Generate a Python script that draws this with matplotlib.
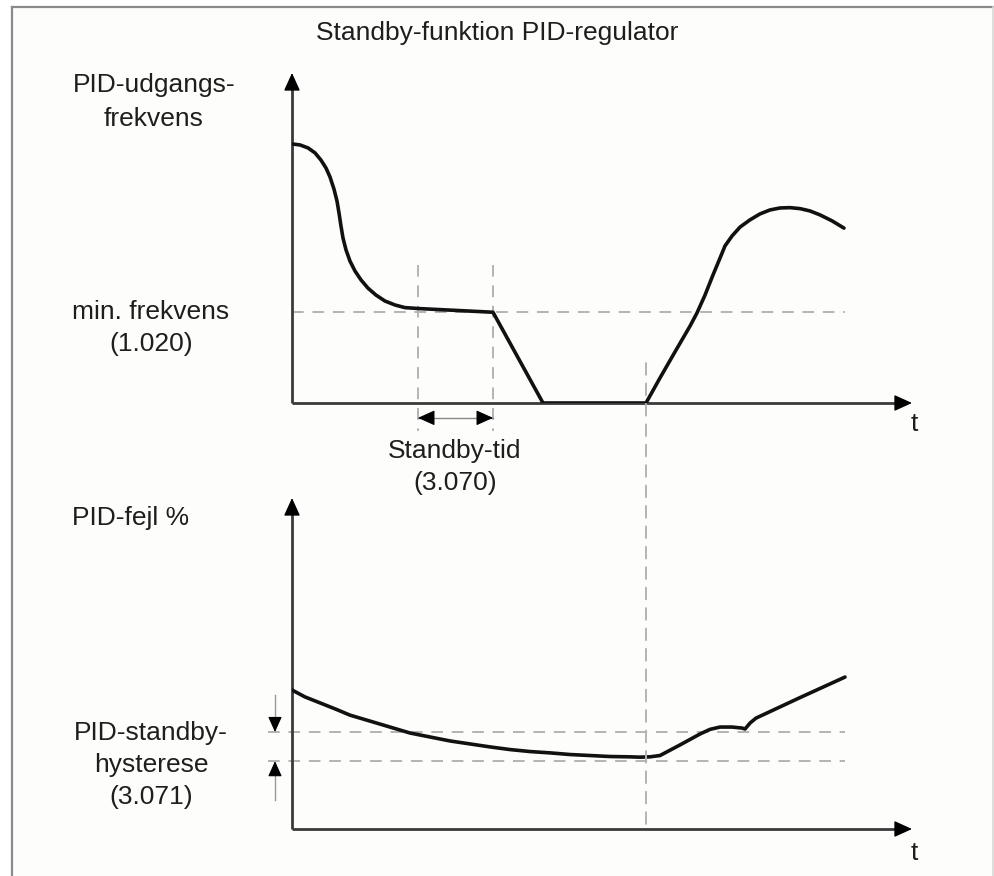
import matplotlib
matplotlib.use("Agg")
import matplotlib.pyplot as plt
from matplotlib.patches import ConnectionPatch
from matplotlib.lines import Line2D

plt.rcParams['font.family'] = ['Liberation Sans', 'DejaVu Sans']

# ---- Output frequency (upper diagram), time vs. % of axis height ----
freq_t = [0, 1.6, 3.2, 4.6, 5.8, 6.8, 7.6, 8.4, 9.0, 9.4, 9.8, 10.2, 10.8, 11.6,
          12.6, 13.8, 15.2, 16.8, 18.6, 20.6, 22.6, 25.6, 29.6, 33.6, 37.6, 40.2,
          50.2, 70.8, 73.6, 76.6, 79.6, 81.0, 82.6, 84.2, 85.6, 86.6, 88.0, 89.6,
          91.6, 93.6, 95.6, 97.6, 99.6, 101.6, 103.6, 105.6, 108.0, 110.4]
freq_v = [78.5, 78.2, 77.3, 75.8, 73.6, 71.2, 68.5, 64.8, 61.2, 57.6, 53.6, 50.0,
          46.4, 43.0, 40.0, 37.3, 34.8, 32.7, 30.9, 29.7, 28.9, 28.6, 28.3, 28.0,
          27.7, 27.5, 0, 0, 7.6, 15.5, 23.3, 27.3, 32.7, 38.8, 43.9, 47.6, 50.6,
          53.3, 55.5, 57.3, 58.5, 59.1, 59.2, 58.9, 58.2, 57.0, 55.2, 53.0]

# ---- PID error (lower diagram) ----
err_t = [0, 2.6, 5.6, 8.6, 11.6, 15.6, 19.6, 23.6, 27.6, 31.6, 35.6, 39.6, 43.6,
         47.6, 51.6, 55.6, 59.6, 63.6, 67.6, 69.6, 71.6, 73.6, 77.6, 81.6, 83.6,
         85.6, 88.0, 90.0, 90.6, 91.6, 92.8, 101.6, 110.6]
err_v = [42.0, 39.9, 38.1, 36.3, 34.4, 32.6, 30.8, 29.0, 27.8, 26.6, 25.7, 24.8,
         24.0, 23.4, 23.0, 22.5, 22.2, 21.9, 21.8, 21.7, 21.8, 22.2, 25.4, 28.7,
         30.1, 30.8, 30.8, 30.5, 30.2, 32.0, 33.5, 39.7, 45.9]

min_freq = 27.5            # 1.020 minimum frequency
standby_start = 25.2       # frequency reaches minimum
standby_end = 40.2         # standby delay (3.070) expired
wake_time = 70.8           # error leaves hysteresis band
hyst_upper = 29.3
hyst_lower = 20.5
t_end = 110.5
t_axis = 124
v_axis = 100

W, H = 994, 876
fig = plt.figure(figsize=(W / 100, H / 100), dpi=100)
fig.patch.set_facecolor('white')


def fx(px):
    return px / W


def fy(py):
    return 1 - py / H


# frame around the drawing
bg = plt.Rectangle((fx(11.5), 0), fx(993) - fx(11.5), fy(6.5), transform=fig.transFigure,
                   facecolor='#fdfdfb', edgecolor='none', zorder=-10)
fig.patches.append(bg)
fig.add_artist(Line2D([fx(11.5), fx(11.5)], [0, fy(6.5)], color='#8a8a8a', lw=1.6))
fig.add_artist(Line2D([fx(11.5), 1], [fy(6.5), fy(6.5)], color='#8a8a8a', lw=1.6))
fig.add_artist(Line2D([fx(993), fx(993)], [0, fy(6.5)], color='#d8d8d8', lw=1.2))

ax1 = fig.add_axes([fx(292), fy(403), fx(912) - fx(292), fy(73) - fy(403)])
ax2 = fig.add_axes([fx(292), fy(829), fx(912) - fx(292), fy(498) - fy(829)])
for ax in (ax1, ax2):
    ax.set_xlim(0, t_axis)
    ax.set_ylim(0, v_axis)
    ax.axis('off')
    ax.patch.set_alpha(0)

axis_col = '#3a3a3a'
dash_col = '#b4b4b4'
dash = (0, (6, 4.5))


def axis_arrows(ax):
    ax.plot([0, 0], [0, v_axis - 2], color=axis_col, lw=2, clip_on=False,
            solid_capstyle='butt')
    ax.plot([0, t_axis - 1.5], [0, 0], color=axis_col, lw=2, clip_on=False,
            solid_capstyle='butt')
    big = dict(arrowstyle='-|>,head_length=1.1,head_width=0.5', color='black',
               lw=1, shrinkA=0, shrinkB=0)
    ax.annotate('', xy=(0, v_axis), xytext=(0, v_axis - 3), annotation_clip=False,
                arrowprops=big)
    ax.annotate('', xy=(t_axis, 0), xytext=(t_axis - 3, 0), annotation_clip=False,
                arrowprops=big)


def arrow_head(ax, tip, back, size=1.0):
    props = dict(arrowstyle=f'-|>,head_length={1.0 * size},head_width={0.45 * size}',
                 color='black', lw=0.8, shrinkA=0, shrinkB=0)
    ax.annotate('', xy=tip, xytext=back, annotation_clip=False, arrowprops=props)


# upper diagram
ax1.plot([0, t_end], [min_freq, min_freq], color=dash_col, lw=1.4, ls=dash, zorder=1)
for tx in (standby_start, standby_end):
    ax1.plot([tx, tx], [41.8, -8.5], color=dash_col, lw=1.4, ls=dash, clip_on=False, zorder=1)
ax1.plot(freq_t, freq_v, color='#111111', lw=2.6, solid_joinstyle='round',
         solid_capstyle='round', zorder=3)
axis_arrows(ax1)
# standby delay span
ax1.plot([standby_start, standby_end], [-4.5, -4.5], color='#888888', lw=1.0,
         clip_on=False)
arrow_head(ax1, (standby_start, -4.5), (standby_start + 0.6, -4.5), 1.05)
arrow_head(ax1, (standby_end, -4.5), (standby_end - 0.6, -4.5), 1.05)

# lower diagram
for hv in (hyst_upper, hyst_lower):
    ax2.plot([-4.8, t_end], [hv, hv], color=dash_col, lw=1.4, ls=dash, clip_on=False, zorder=1)
ax2.plot(err_t, err_v, color='#111111', lw=2.6, solid_joinstyle='round',
         solid_capstyle='round', zorder=3)
axis_arrows(ax2)
ax2.plot([-3.4, -3.4], [40.5, hyst_upper + 1], color='#999999', lw=1.0, clip_on=False)
ax2.plot([-3.4, -3.4], [8.8, hyst_lower - 1], color='#999999', lw=1.0, clip_on=False)
arrow_head(ax2, (-3.4, hyst_upper), (-3.4, hyst_upper + 1.0), 0.95)
arrow_head(ax2, (-3.4, hyst_lower), (-3.4, hyst_lower - 1.0), 0.95)

# wake-up marker spanning both diagrams
con = ConnectionPatch(xyA=(wake_time, 12.1), coordsA=ax1.transData,
                      xyB=(wake_time, 0), coordsB=ax2.transData,
                      color=dash_col, lw=1.4, ls=dash, zorder=1)
fig.add_artist(con)

# texts
txt = dict(color='#1e1e1e', fontsize=19, ha='center', va='center',
           multialignment='center', linespacing=1.42)
fig.text(fx(497), fy(33), 'Standby-funktion PID-regulator', **txt)
fig.text(fx(154), fy(102), 'PID-udgangs-\nfrekvens', **dict(txt, linespacing=1.5))
fig.text(fx(151), fy(328), 'min. frekvens\n(1.020)', **txt)
fig.text(fx(455), fy(467), 'Standby-tid\n(3.070)', **txt)
fig.text(fx(131), fy(518), 'PID-fejl %', **txt)
fig.text(fx(151), fy(765), 'PID-standby-\nhysterese\n(3.071)', **txt)
fig.text(fx(914), fy(424), 't', **txt)
fig.text(fx(914), fy(853), 't', **txt)

fig.savefig('out.png', dpi=100, facecolor=fig.get_facecolor())
